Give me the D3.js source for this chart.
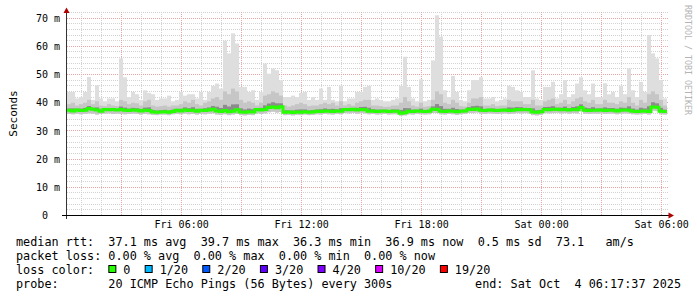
<!DOCTYPE html>
<meta charset="utf-8">
<style>
  body {
    margin: 0;
    background-color: #fff;
  }

  text {
    font-family: "DejaVu Sans Mono", monospace;
    fill: #000;
  }

  .minor {
    stroke: #d2d2d2;
    stroke-width: 1px;
    stroke-dasharray: 1, 1;
  }

  .major {
    stroke: #eca4a4;
    stroke-width: 1px;
    stroke-dasharray: 1, 1;
  }

  .median {
    fill: none;
    stroke-width: 3px;
  }
</style>
<svg width="697" height="297"></svg>
<script src="https://cdn.jsdelivr.net/npm/d3@7/dist/d3.min.js"></script>
<script>
  // 150 samples, 12 minutes apart, from Fri 00:17:37 to Sat 06:17:37
  var startTime = new Date(Date.UTC(2025, 9, 3, 0, 17, 37)),
    endTime = new Date(Date.UTC(2025, 9, 4, 6, 17, 37)),
    stepMinutes = 12;

  var medianMs = [
    37.3, 37.1, 37.4, 37.2, 37.3, 37.9, 37.7, 37.4, 37.0, 37.6,
    37.5, 37.6, 37.4, 37.6, 37.3, 37.2, 37.4, 37.3, 37.1, 37.3,
    37.2, 36.7, 36.6, 36.7, 36.8, 36.6, 36.9, 37.3, 37.1, 37.4,
    37.2, 37.3, 37.0, 37.3, 37.2, 37.4, 37.7, 37.1, 36.9, 37.2,
    36.8, 37.0, 37.5, 36.7, 36.6, 36.8, 36.7, 37.6, 37.4, 37.6,
    38.3, 38.5, 38.2, 38.6, 36.6, 36.7, 36.5, 36.7, 36.6, 36.8,
    36.6, 36.7, 37.0, 36.9, 37.1, 37.0, 36.9, 37.1, 37.0, 37.6,
    37.5, 37.7, 37.4, 37.6, 37.5, 37.0, 37.1, 36.9, 37.0, 37.1,
    36.9, 37.0, 37.0, 36.3, 36.4, 37.0, 36.9, 37.1, 37.0, 36.9,
    37.0, 37.7, 37.6, 37.0, 36.9, 37.1, 37.0, 36.8, 37.0, 37.1,
    37.7, 37.6, 37.8, 37.3, 37.2, 37.4, 37.3, 37.2, 37.3, 37.4,
    37.2, 37.3, 37.6, 37.5, 37.6, 37.5, 36.7, 36.6, 36.8, 37.6,
    37.5, 37.6, 37.7, 37.5, 37.6, 37.4, 37.6, 37.5, 38.3, 37.3,
    37.2, 37.3, 37.3, 37.4, 37.2, 37.3, 37.3, 37.1, 37.3, 37.4,
    37.3, 37.0, 36.9, 37.0, 37.1, 36.9, 38.5, 38.4, 37.0, 36.9
  ];

  var minMs = [
    36.0, 35.9, 36.1, 35.9, 36.0, 36.2, 36.1, 35.8, 36.0, 36.1,
    36.2, 36.0, 36.1, 36.0, 35.9, 36.0, 36.1, 36.0, 35.8, 36.0,
    35.9, 35.7, 35.6, 35.8, 35.8, 35.6, 35.9, 36.0, 35.9, 36.1,
    35.9, 36.0, 35.8, 36.0, 35.9, 36.1, 36.2, 35.8, 35.7, 35.9,
    35.6, 35.8, 36.0, 35.6, 35.5, 35.7, 35.6, 36.2, 36.0, 36.2,
    36.6, 36.8, 36.5, 36.7, 35.6, 35.7, 35.5, 35.7, 35.6, 35.8,
    35.6, 35.7, 35.9, 35.8, 36.0, 35.9, 35.8, 36.0, 35.9, 36.3,
    36.2, 36.4, 36.1, 36.3, 36.2, 35.9, 36.0, 35.8, 35.9, 36.0,
    35.8, 35.9, 35.9, 35.4, 35.5, 35.9, 35.8, 36.0, 35.9, 35.8,
    35.9, 36.4, 36.3, 35.9, 35.8, 36.0, 35.9, 35.7, 35.9, 36.0,
    36.4, 36.3, 36.5, 36.1, 36.0, 36.2, 36.1, 36.0, 36.1, 36.2,
    36.0, 36.1, 36.3, 36.2, 36.3, 36.2, 35.6, 35.5, 35.7, 36.3,
    36.2, 36.3, 36.4, 36.2, 36.3, 36.1, 36.3, 36.2, 37.0, 36.1,
    36.0, 36.1, 36.1, 36.2, 36.0, 36.1, 36.1, 35.9, 36.1, 36.2,
    36.1, 35.9, 35.8, 35.9, 36.0, 35.8, 37.2, 37.1, 35.9, 35.8
  ];

  var p75Ms = [
    39.5, 40.0, 39.0, 39.5, 40.0, 41.0, 39.5, 40.5, 39.0, 38.8,
    39.5, 39.0, 38.8, 41.0, 40.5, 39.5, 40.0, 39.8, 39.0, 40.5,
    41.0, 39.0, 38.6, 38.8, 39.0, 38.6, 39.0, 39.0, 39.5, 40.5,
    40.0, 41.0, 39.5, 39.0, 40.0, 40.5, 41.5, 42.0, 41.0, 44.0,
    43.0, 45.0, 44.0, 41.0, 40.0, 40.5, 40.0, 39.0, 40.0, 42.5,
    43.0, 44.0, 43.5, 42.5, 39.0, 38.6, 39.0, 39.5, 40.0, 39.5,
    38.8, 39.0, 39.0, 39.5, 40.0, 39.5, 40.0, 39.0, 40.5, 39.0,
    39.5, 39.0, 40.0, 40.5, 41.0, 41.0, 39.0, 39.0, 38.8, 38.5,
    38.6, 39.0, 39.0, 40.0, 42.0, 40.5, 39.0, 38.6, 40.0, 38.6,
    38.8, 41.0, 44.0, 43.0, 40.0, 39.5, 41.0, 40.0, 38.8, 38.6,
    40.0, 41.5, 41.5, 42.0, 39.0, 39.0, 39.5, 38.8, 39.0, 39.0,
    41.0, 40.5, 40.5, 40.5, 39.5, 39.5, 41.0, 39.0, 39.0, 40.5,
    41.0, 41.5, 39.5, 40.0, 41.0, 39.5, 40.5, 41.5, 42.0, 40.5,
    40.0, 41.0, 39.5, 39.5, 41.0, 40.0, 40.0, 39.5, 40.5, 40.0,
    42.0, 40.0, 39.0, 41.0, 40.0, 43.0, 44.0, 43.0, 41.0, 39.0
  ];

  var maxMs = [
    43.8, 43.8, 41.5, 42.0, 43.8, 49.1, 41.0, 46.2, 41.5, 40.5,
    41.5, 41.5, 40.5, 55.7, 49.0, 42.0, 43.8, 43.0, 41.0, 44.4,
    43.5, 43.0, 41.0, 41.5, 41.5, 42.5, 40.5, 41.0, 43.8, 42.5,
    43.0, 43.0, 41.5, 43.8, 41.0, 43.8, 46.0, 46.8, 45.0, 62.0,
    57.5, 64.6, 61.0, 45.6, 45.6, 43.8, 44.4, 41.0, 43.8, 53.9,
    50.3, 52.1, 51.5, 47.9, 42.0, 42.0, 42.5, 42.0, 43.5, 43.8,
    41.0, 42.0, 41.0, 45.0, 41.0, 45.6, 41.0, 40.5, 46.0, 40.5,
    41.5, 41.5, 43.8, 43.8, 45.6, 46.0, 41.0, 41.5, 41.0, 40.5,
    40.5, 41.0, 41.5, 46.0, 56.3, 45.6, 41.5, 40.5, 48.3, 40.5,
    41.0, 55.0, 71.0, 63.4, 44.4, 42.0, 49.5, 43.8, 41.0, 40.5,
    44.4, 48.0, 48.0, 49.0, 41.5, 41.5, 42.0, 40.5, 41.0, 41.5,
    46.0, 45.6, 44.4, 43.8, 42.0, 42.0, 51.5, 41.5, 41.0, 45.6,
    45.6, 47.4, 41.5, 43.0, 48.0, 42.0, 43.0, 46.8, 49.0, 44.4,
    43.0, 46.8, 42.0, 42.0, 46.9, 43.0, 43.8, 42.0, 46.0, 43.0,
    52.1, 44.4, 42.0, 47.4, 43.8, 64.0, 57.5, 55.7, 48.0, 41.5
  ];

  var yTicks = [0, 10, 20, 30, 40, 50, 60, 70];
  var yTickLabels = ["0  ", "10 m", "20 m", "30 m", "40 m", "50 m", "60 m", "70 m"];

  var xTickTimes = [
    new Date(Date.UTC(2025, 9, 3, 6)), new Date(Date.UTC(2025, 9, 3, 12)),
    new Date(Date.UTC(2025, 9, 3, 18)), new Date(Date.UTC(2025, 9, 4, 0)),
    new Date(Date.UTC(2025, 9, 4, 6))
  ];
  var xTickLabels = ["Fri 06:00", "Fri 12:00", "Fri 18:00", "Sat 00:00", "Sat 06:00"];

  var lossLabels = ["0", "1/20", "2/20", "3/20", "4/20", "10/20", "19/20"];
  var lossColors = ["#26ff00", "#00b8ff", "#0059ff", "#5e00ff", "#7e00ff", "#dd00ff", "#ff0000"];

  var statsLines = [
    "median rtt:  37.1 ms avg  39.7 ms max  36.3 ms min  36.9 ms now  0.5 ms sd  73.1   am/s",
    "packet loss: 0.00 % avg  0.00 % max  0.00 % min  0.00 % now"
  ];
  var probeText = "probe:       20 ICMP Echo Pings (56 Bytes) every 300s";
  var endText = "end: Sat Oct  4 06:17:37 2025";

  // keep runs of spaces, like the fixed-width rrdtool legend
  var keep = function(s) { return s.replace(/ /g, "\u00a0"); };

  var svg = d3.select("svg");

  var x = d3.scaleUtc()
    .domain([startTime, endTime])
    .range([67, 667]);

  var y = d3.scaleLinear()
    .domain([0, 70])
    .range([215.5, 18.1]);

  var px = function(v) { return Math.round(v - 0.5) + 0.5; };

  var samples = medianMs.map(function(m, i) {
    return {
      t0: d3.utcMinute.offset(startTime, i * stepMinutes),
      t1: d3.utcMinute.offset(startTime, (i + 1) * stepMinutes),
      median: m,
      min: minMs[i],
      p75: p75Ms[i],
      max: maxMs[i]
    };
  });

  // grid
  var grid = svg.append("g");
  var minorY = d3.range(2, 73, 2).filter(function(v) { return v % 10 !== 0; });
  grid.selectAll(".hminor").data(minorY).enter().append("line")
    .attr("class", "minor")
    .attr("x1", 67).attr("x2", 669)
    .attr("y1", function(d) { return px(y(d)); })
    .attr("y2", function(d) { return px(y(d)); });
  grid.selectAll(".vminor").data(d3.utcHour.range(startTime, endTime))
    .enter().append("line")
    .attr("class", function(d) { return d.getUTCHours() % 3 === 0 ? "major" : "minor"; })
    .attr("x1", function(d) { return px(x(d)); })
    .attr("x2", function(d) { return px(x(d)); })
    .attr("y1", 215).attr("y2", 12);
  grid.selectAll(".hmajor").data(yTicks.slice(1)).enter().append("line")
    .attr("class", "major")
    .attr("x1", 67).attr("x2", 669)
    .attr("y1", function(d) { return px(y(d)); })
    .attr("y2", function(d) { return px(y(d)); });

  // smoke, lighter at the edges and darker near the median
  var smoke = svg.append("g");
  var band = function(cls, lo, hi, color) {
    smoke.selectAll("." + cls).data(samples).enter().append("rect")
      .attr("class", cls)
      .attr("x", function(d) { return x(d.t0); })
      .attr("width", function(d) { return x(d.t1) - x(d.t0); })
      .attr("y", function(d) { return y(hi(d)); })
      .attr("height", function(d) { return Math.max(0, y(lo(d)) - y(hi(d))); })
      .attr("fill", color);
  };
  band("outer", function(d) { return d.min; }, function(d) { return d.max; }, "#dedede");
  band("mid", function(d) { return d.min; }, function(d) { return d.p75; }, "#c6c6c6");
  band("inner",
    function(d) { return d.median - 0.3; },
    function(d) { return d.median + (d.p75 - d.median) * 0.3; },
    "#8c8c8c");

  // median, coloured by loss (no loss all day)
  var medianLine = d3.line()
    .curve(d3.curveStepAfter)
    .x(function(d) { return x(d[0]); })
    .y(function(d) { return y(d[1]); });
  var medPts = samples.map(function(d) { return [d.t0, d.median]; });
  medPts.push([endTime, medianMs[medianMs.length - 1]]);
  svg.append("path")
    .datum(medPts)
    .attr("class", "median")
    .attr("stroke", lossColors[0])
    .attr("d", medianLine);

  // axes
  svg.append("line")
    .attr("x1", 66.5).attr("x2", 66.5).attr("y1", 219).attr("y2", 12)
    .attr("stroke", "#333");
  svg.append("line")
    .attr("x1", 62).attr("x2", 669).attr("y1", 215.5).attr("y2", 215.5)
    .attr("stroke", "#000");
  svg.append("path")
    .attr("d", "M63.5,13 L69.5,13 L66.5,7.5 Z")
    .attr("fill", "#b00000");
  svg.append("path")
    .attr("d", "M668.5,212.5 L668.5,218.5 L674,215.5 Z")
    .attr("fill", "#b00000");

  var yAxis = svg.append("g")
    .attr("transform", "translate(67,0)")
    .call(d3.axisLeft(y).tickValues(yTicks).tickSize(0).tickPadding(7)
      .tickFormat(function(d, i) { return keep(yTickLabels[i]); }));
  var xAxis = svg.append("g")
    .attr("transform", "translate(0,215.5)")
    .call(d3.axisBottom(x).tickValues(xTickTimes).tickSize(0).tickPadding(5)
      .tickFormat(function(d, i) { return xTickLabels[i]; }));
  [yAxis, xAxis].forEach(function(a) {
    a.select(".domain").remove();
    a.selectAll(".tick line").remove();
    a.attr("font-family", "DejaVu Sans Mono").attr("font-size", 10);
    a.selectAll("text").attr("fill", "#000");
  });

  svg.append("text")
    .attr("transform", "translate(16.5,113.5) rotate(-90)")
    .attr("text-anchor", "middle")
    .attr("font-size", 11)
    .text("Seconds");

  svg.append("text")
    .attr("transform", "translate(685,5) rotate(90)")
    .attr("font-size", 8.3)
    .style("fill", "#b4b4b4")
    .text("RRDTOOL / TOBI OETIKER");

  // legend
  var legend = svg.append("g")
    .attr("font-size", 11.8);
  legend.selectAll(".stat").data(statsLines).enter().append("text")
    .attr("x", 16)
    .attr("y", function(d, i) { return 245.5 + i * 14; })
    .text(function(d) { return keep(d); });

  var lossRow = legend.append("text")
    .attr("x", 16).attr("y", 273.5)
    .text("loss color:");
  var cw = lossRow.node().getComputedTextLength() / 11;
  var cursor = 16 + 13 * cw;
  lossLabels.forEach(function(lab, i) {
    legend.append("rect")
      .attr("x", cursor + 0.5).attr("y", 265.5)
      .attr("width", 7).attr("height", 7)
      .attr("fill", lossColors[i])
      .attr("stroke", "#000");
    legend.append("text")
      .attr("x", cursor + 15).attr("y", 273.5)
      .text(lab);
    cursor += 15 + lab.length * cw + 2 * cw;
  });

  legend.append("text")
    .attr("x", 16).attr("y", 287.5)
    .text(keep(probeText));
  legend.append("text")
    .attr("x", 681).attr("y", 287.5)
    .attr("text-anchor", "end")
    .text(keep(endText));
</script>
